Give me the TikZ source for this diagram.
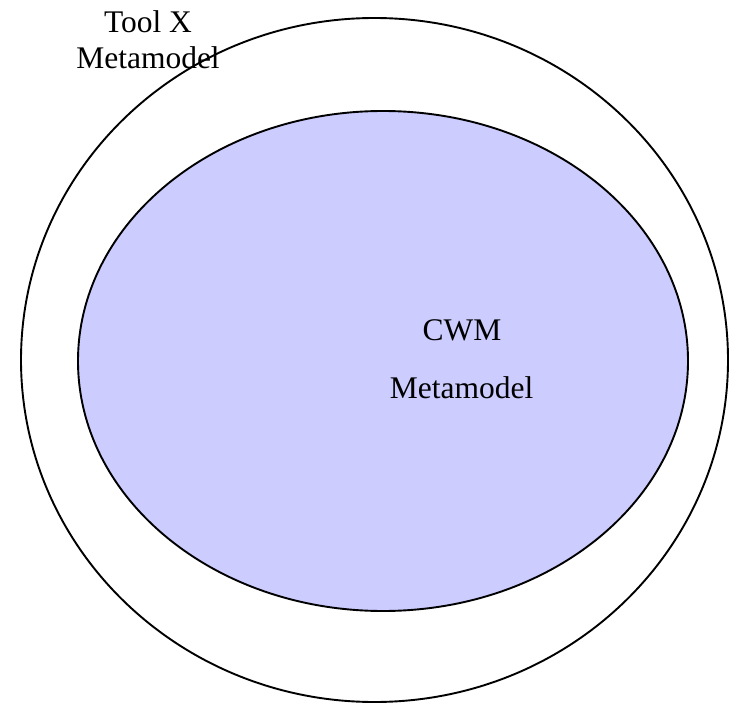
\documentclass[tikz,border=0pt]{standalone}
\usepackage{fontspec}
\setmainfont{Liberation Serif}
\begin{document}
\begin{tikzpicture}[x=1pt,y=-1pt,
  ring/.style={draw=black,line width=1.9pt},
  label/.style={anchor=base,inner sep=0pt,font=\fontsize{31.5}{36}\selectfont}]
\useasboundingbox (0,0) rectangle (733,703);
% outer metamodel boundary
\draw[ring] (374.5,360) ellipse [x radius=353.5, y radius=342];
% inner CWM core
\draw[ring,fill={rgb,255:red,204;green,204;blue,255}] (383,361) ellipse [x radius=305, y radius=250];
% labels
\node[label] (toolx) at (148,33) {Tool X};
\node[label] (toolxmm) at (148,69) {Metamodel};
\node[label] (cwm) at (462,340) {CWM};
\node[label] (cwmmm) at (461.5,398) {Metamodel};
\end{tikzpicture}
\end{document}
